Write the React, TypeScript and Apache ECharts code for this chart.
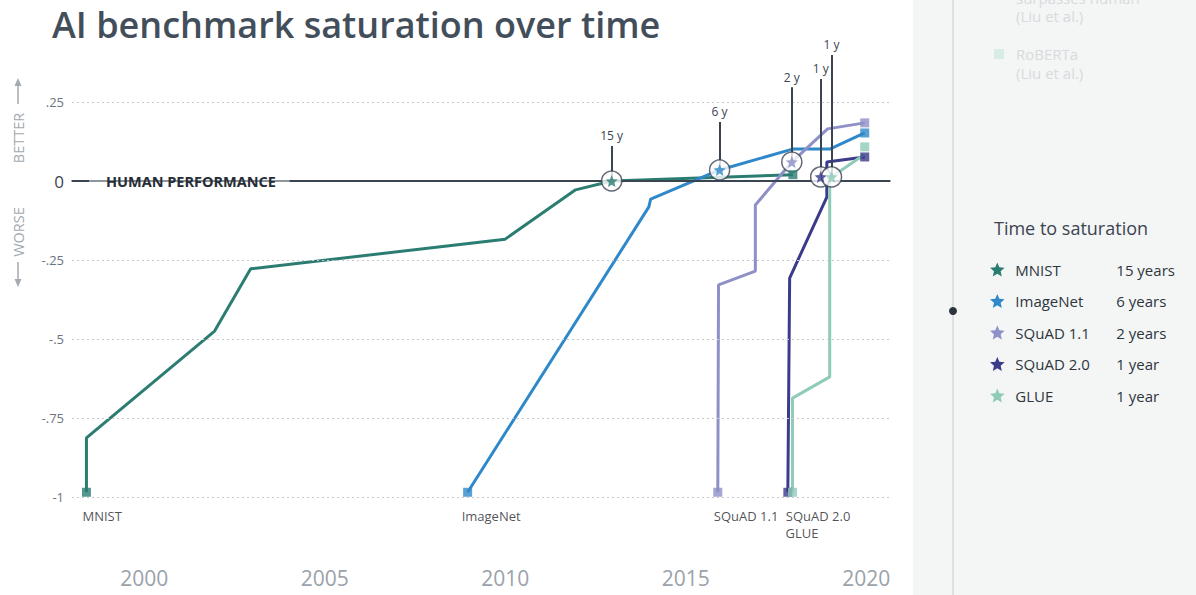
import React, { useEffect, useRef } from "react";
import * as echarts from "echarts";

// ---------- data ----------
const benchmarks = ["MNIST", "ImageNet", "SQuAD 1.1", "SQuAD 2.0", "GLUE"];
const saturationLabels = ["15 years", "6 years", "2 years", "1 year", "1 year"];
const annotationLabels = ["15 y", "6 y", "2 y", "1 y", "1 y"];

const mnistYears = [1998.4, 1998.4, 2001.95, 2002.95, 2010.0, 2011.95, 2012.95, 2017.97];
const mnistValues = [-0.985, -0.813, -0.475, -0.278, -0.184, -0.028, 0, 0.02];
const imagenetYears = [2008.96, 2013.98, 2014.03, 2015.94, 2017.96, 2018.99, 2019.96];
const imagenetValues = [-0.985, -0.082, -0.057, 0.035, 0.101, 0.101, 0.152];
const squad11Years = [2015.89, 2015.91, 2016.93, 2016.93, 2017.94, 2018.93, 2019.96];
const squad11Values = [-0.985, -0.329, -0.285, -0.076, 0.06, 0.165, 0.184];
const squad20Years = [2017.83, 2017.88, 2018.91, 2018.91, 2019.96];
const squad20Values = [-0.985, -0.307, -0.051, 0.06, 0.076];
const glueYears = [2017.96, 2017.96, 2018.99, 2018.99, 2019.04, 2019.93];
const glueValues = [-0.985, -0.687, -0.62, 0, 0.013, 0.082];

const endSquareYears = [2017.97, 2019.96, 2019.96, 2019.96, 2019.96];
const endSquareValues = [0.02, 0.152, 0.184, 0.076, 0.108];

const starYears = [2012.95, 2015.94, 2017.94, 2018.74, 2019.04];
const starValues = [0, 0.035, 0.06, 0.013, 0.013];
const annotationTops = [0.111, 0.187, 0.297, 0.323, 0.399];

const yTicks = [0.25, 0, -0.25, -0.5, -0.75, -1];
const yTickLabels = [".25", "0", "-.25", "-.5", "-.75", "-1"];
const xTicks = [2000, 2005, 2010, 2015, 2020];

const humanLineLeft = [1998, 1998.47];
const humanLineRight = [2004.03, 2020.66];

// ---------- styles ----------
const COLORS = ["#2b7d72", "#2f88c9", "#8e90c7", "#3a3b8b", "#8fcbb8"];
const FONT = "'Open Sans', 'Noto Sans', sans-serif";
const DARK = "#3b4451";
const STAR =
  "path://M12,1.5 L15,8.6 L22.7,9.3 L16.9,14.4 L18.6,22 L12,18 L5.4,22 L7.1,14.4 L1.3,9.3 L9,8.6 Z";
const startLabelNudges = [
  [-4, 8],
  [-6, 8],
  [-4, 8],
  [-2, 8],
  [-7, 25],
];

export default function App() {
  const ref = useRef<HTMLDivElement>(null);

  useEffect(() => {
    if (!ref.current) return;
    const chart = echarts.init(ref.current, null, { renderer: "svg" });

    const lineYears = [mnistYears, imagenetYears, squad11Years, squad20Years, glueYears];
    const lineValues = [mnistValues, imagenetValues, squad11Values, squad20Values, glueValues];

    const lineSeries = benchmarks.map((name, i) => ({
      type: "line",
      name,
      data: lineYears[i].map((x, j) => [x, lineValues[i][j]]),
      showSymbol: false,
      symbol: "none",
      silent: true,
      z: 3,
      color: COLORS[i],
      itemStyle: { color: COLORS[i] },
      lineStyle: { color: COLORS[i], width: 3 },
    }));

    const gridSeries = {
      type: "line",
      name: "_grid",
      data: [],
      silent: true,
      z: 1,
      markLine: {
        silent: true,
        symbol: "none",
        animation: false,
        label: { show: false },
        lineStyle: { color: "#c6cacf", width: 1, type: [2, 3] },
        data: yTicks.filter((v) => v !== 0).map((v) => ({ yAxis: v })),
      },
    };

    const humanSeries = {
      type: "line",
      name: "_human",
      data: [],
      silent: true,
      z: 2,
      markLine: {
        silent: true,
        symbol: "none",
        animation: false,
        lineStyle: { color: DARK, width: 2, type: "solid" },
        label: {
          show: true,
          position: "end",
          distance: 17,
          formatter: (p: any) => (p.dataIndex === 0 ? "HUMAN PERFORMANCE" : ""),
          color: "#262d36",
          fontWeight: "bold",
          fontSize: 14.5,
          fontFamily: FONT,
        },
        data: [
          [{ coord: [humanLineLeft[0], 0] }, { coord: [humanLineLeft[1], 0] }],
          [{ coord: [humanLineRight[0], 0] }, { coord: [humanLineRight[1], 0] }],
        ],
      },
    };

    const annotationSeries = {
      type: "line",
      name: "_ann",
      data: [],
      silent: true,
      z: 4,
      markLine: {
        silent: true,
        symbol: "none",
        animation: false,
        lineStyle: { color: DARK, width: 2, type: "solid" },
        label: {
          show: true,
          position: "end",
          distance: 4,
          formatter: (p: any) => annotationLabels[p.dataIndex],
          color: DARK,
          fontSize: 12,
          fontFamily: FONT,
        },
        data: benchmarks.map((_, i) => [
          { coord: [starYears[i], starValues[i]] },
          { coord: [starYears[i], annotationTops[i]] },
        ]),
      },
    };

    const circleSeries = {
      type: "scatter",
      name: "_circles",
      silent: true,
      z: 5,
      symbol: "circle",
      symbolSize: 20,
      itemStyle: { color: "#ffffff", borderColor: DARK, borderWidth: 1.5 },
      data: starYears.map((x, i) => [x, starValues[i]]),
    };

    const starSeries = {
      type: "scatter",
      name: "_stars",
      silent: true,
      z: 6,
      symbol: STAR,
      symbolSize: 12,
      data: starYears.map((x, i) => ({
        value: [x, starValues[i]],
        itemStyle: { color: COLORS[i] },
      })),
    };

    const startSquares = {
      type: "scatter",
      name: "_start",
      silent: true,
      z: 5,
      symbol: "rect",
      symbolSize: 9,
      data: benchmarks.map((name, i) => ({
        value: [lineYears[i][0], lineValues[i][0]],
        itemStyle: { color: COLORS[i] },
        label: {
          show: true,
          formatter: name,
          position: "bottom",
          align: "left",
          offset: startLabelNudges[i],
          color: "#1f252c",
          fontSize: 13,
          fontFamily: FONT,
        },
      })),
    };

    const endSquares = {
      type: "scatter",
      name: "_end",
      silent: true,
      z: 5,
      symbol: "rect",
      symbolSize: 9,
      data: benchmarks.map((_, i) => ({
        value: [endSquareYears[i], endSquareValues[i]],
        itemStyle: { color: COLORS[i] },
      })),
    };

    const faded = "#d7dbde";

    const option: any = {
      animation: false,
      backgroundColor: "#ffffff",
      textStyle: { fontFamily: FONT },
      grid: { left: 72, right: 306, top: 23, bottom: 19 },
      xAxis: {
        type: "value",
        min: 1998,
        max: 2020.66,
        offset: -14,
        axisLine: { show: true, lineStyle: { color: "#8e969e", width: 2 } },
        axisTick: { show: false },
        splitLine: { show: false },
        axisLabel: {
          customValues: xTicks,
          formatter: (v: number) => String(Math.round(v)),
          color: "#9aa2aa",
          fontSize: 21,
          margin: 5,
          fontFamily: FONT,
        },
      },
      yAxis: {
        type: "value",
        min: -1.25,
        max: 0.5,
        interval: 0.25,
        axisLine: { show: false },
        axisTick: { show: false },
        splitLine: { show: false },
        axisLabel: {
          margin: 8,
          color: "#6b7480",
          fontSize: 13,
          fontFamily: FONT,
          formatter: (v: number) => {
            const i = yTicks.findIndex((t) => Math.abs(t - v) < 1e-6);
            if (i < 0) return "";
            return yTicks[i] === 0 ? "{z|0}" : yTickLabels[i];
          },
          rich: { z: { fontSize: 17, color: DARK, fontFamily: FONT } },
        },
      },
      legend: {
        data: benchmarks.map((n) => ({ name: n, icon: STAR })),
        orient: "vertical",
        left: 985,
        top: 257,
        itemWidth: 26,
        itemHeight: 14,
        itemGap: 16.5,
        selectedMode: false,
        itemStyle: { borderWidth: 0 },
        formatter: (name: string) => {
          const i = benchmarks.indexOf(name);
          return `{n|${name}}{y|${saturationLabels[i]}}`;
        },
        textStyle: {
          color: "#2e353d",
          fontSize: 15,
          fontFamily: FONT,
          rich: {
            n: { width: 101, fontSize: 15, lineHeight: 18, color: "#2e353d", fontFamily: FONT },
            y: { fontSize: 15, lineHeight: 18, color: "#2e353d", fontFamily: FONT },
          },
        },
      },
      graphic: [
        {
          type: "rect",
          z: -10,
          silent: true,
          shape: { x: 913, y: 0, width: 283, height: 595 },
          style: { fill: "#f4f5f5" },
        },
        {
          type: "line",
          z: -9,
          silent: true,
          shape: { x1: 953, y1: 0, x2: 953, y2: 595 },
          style: { stroke: "#d6d9dc", lineWidth: 1.5 },
        },
        {
          type: "circle",
          silent: true,
          shape: { cx: 953, cy: 311, r: 4 },
          style: { fill: "#2b333d" },
        },
        {
          type: "text",
          silent: true,
          style: {
            text: "surpasses human", x: 1016, y: -2, fill: faded, fontSize: 15, fontFamily: FONT,
            align: "left", verticalAlign: "middle", textAlign: "left", textVerticalAlign: "middle",
          },
        },
        {
          type: "text",
          silent: true,
          style: {
            text: "(Liu et al.)", x: 1016, y: 16, fill: faded, fontSize: 15, fontFamily: FONT,
            align: "left", verticalAlign: "middle", textAlign: "left", textVerticalAlign: "middle",
          },
        },
        {
          type: "rect",
          silent: true,
          shape: { x: 994, y: 49, width: 10, height: 10 },
          style: { fill: "#d8ebe5" },
        },
        {
          type: "text",
          silent: true,
          style: {
            text: "RoBERTa", x: 1016, y: 54, fill: faded, fontSize: 15, fontFamily: FONT,
            align: "left", verticalAlign: "middle", textAlign: "left", textVerticalAlign: "middle",
          },
        },
        {
          type: "text",
          silent: true,
          style: {
            text: "(Liu et al.)", x: 1016, y: 73, fill: faded, fontSize: 15, fontFamily: FONT,
            align: "left", verticalAlign: "middle", textAlign: "left", textVerticalAlign: "middle",
          },
        },
        {
          type: "text",
          silent: true,
          style: {
            text: "Time to saturation", x: 994, y: 228, fill: DARK, fontSize: 18, fontFamily: FONT,
            align: "left", verticalAlign: "middle", textAlign: "left", textVerticalAlign: "middle",
          },
        },
        {
          type: "text",
          silent: true,
          style: {
            text: "AI benchmark saturation over time", x: 52, y: 24, fill: "#434e5b",
            fontSize: 36, fontWeight: 600, fontFamily: FONT,
            align: "left", verticalAlign: "middle", textAlign: "left", textVerticalAlign: "middle",
          },
        },
        // BETTER / WORSE side labels with arrows
        {
          type: "text",
          silent: true,
          x: 18,
          y: 138,
          rotation: Math.PI / 2,
          style: {
            text: "BETTER", x: 0, y: 0, fill: "#a4aab0", fontSize: 14.5, fontFamily: FONT,
            align: "center", verticalAlign: "middle", textAlign: "center", textVerticalAlign: "middle",
          },
        },
        {
          type: "text",
          silent: true,
          x: 18,
          y: 232,
          rotation: Math.PI / 2,
          style: {
            text: "WORSE", x: 0, y: 0, fill: "#a4aab0", fontSize: 14.5, fontFamily: FONT,
            align: "center", verticalAlign: "middle", textAlign: "center", textVerticalAlign: "middle",
          },
        },
        {
          type: "line",
          silent: true,
          shape: { x1: 18, y1: 104, x2: 18, y2: 84 },
          style: { stroke: "#a4aab0", lineWidth: 1.5 },
        },
        {
          type: "polygon",
          silent: true,
          shape: { points: [[18, 78], [14.5, 86], [21.5, 86]] },
          style: { fill: "#a4aab0" },
        },
        {
          type: "line",
          silent: true,
          shape: { x1: 18, y1: 262, x2: 18, y2: 281 },
          style: { stroke: "#a4aab0", lineWidth: 1.5 },
        },
        {
          type: "polygon",
          silent: true,
          shape: { points: [[18, 287], [14.5, 279], [21.5, 279]] },
          style: { fill: "#a4aab0" },
        },
      ],
      series: [
        gridSeries,
        humanSeries,
        ...lineSeries,
        annotationSeries,
        circleSeries,
        starSeries,
        startSquares,
        endSquares,
      ],
    };

    chart.setOption(option);
    return () => chart.dispose();
  }, []);

  return (
    <div
      ref={ref}
      style={{ position: "fixed", left: 0, top: 0, width: 1196, height: 595 }}
    />
  );
}
